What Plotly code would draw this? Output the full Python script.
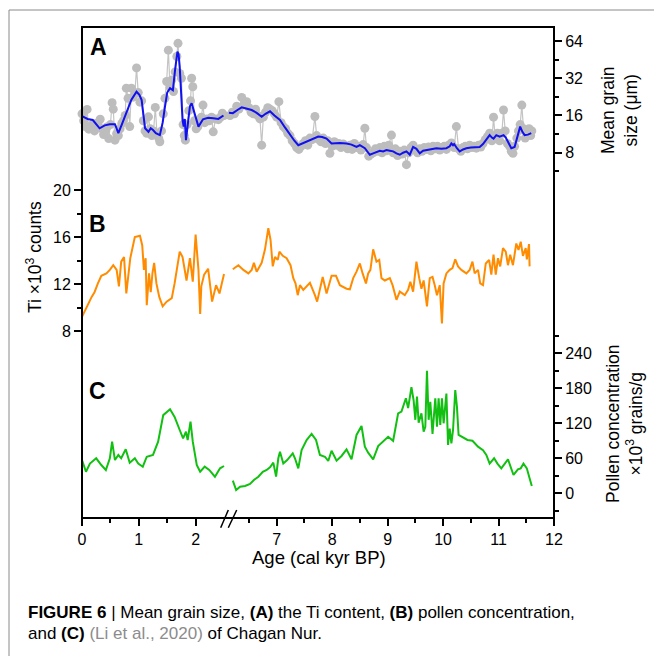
import plotly.graph_objects as go
import math

# ---------------- data ----------------
# Panel A: mean grain size (um), raw samples
grain_age = [0.00,0.03,0.06,0.09,0.12,0.15,0.18,0.22,0.25,0.28,0.32,0.35,0.38,0.41,0.44,0.47,0.50,0.53,0.55,0.58,
             0.61,0.64,0.67,0.70,0.73,0.76,0.78,0.81,0.84,0.87,0.90,0.93,0.96,0.99,1.02,1.05,1.08,1.11,1.14,1.17,
             1.20,1.23,1.26,1.29,1.32,1.35,1.37,1.40,1.43,1.46,1.49,1.52,1.55,1.58,1.61,1.64,1.67,1.69,1.72,1.75,
             1.78,1.80,1.82,1.85,1.88,1.91,1.93,1.95,1.98,2.01,2.04,2.07,2.10,2.13,2.16,2.20,2.24,2.28,2.31,2.35,
             2.40,2.44,2.47,2.50,
             6.12,6.16,6.20,6.24,6.28,6.32,6.37,6.41,6.46,6.50,6.54,6.58,6.62,6.66,6.70,6.73,6.76,6.80,6.84,6.88,
             6.92,6.96,7.00,7.04,7.08,7.12,7.16,7.20,7.24,7.28,7.32,7.36,7.40,7.44,7.48,7.52,7.56,7.60,7.64,7.69,
             7.72,7.76,7.80,7.84,7.88,7.92,7.96,8.00,8.04,8.08,8.12,8.16,8.20,8.24,8.28,8.32,8.36,8.40,8.44,8.48,
             8.52,8.56,8.59,8.62,8.66,8.70,8.74,8.78,8.82,8.86,8.90,8.94,8.98,9.02,9.07,9.10,9.14,9.18,9.22,9.26,
             9.30,9.34,9.38,9.42,9.46,9.50,9.54,9.58,9.62,9.66,9.70,9.74,9.78,9.82,9.86,9.90,9.94,9.98,10.02,10.06,
             10.10,10.15,10.20,10.24,10.28,10.32,10.36,10.40,10.44,10.48,10.52,10.56,10.60,10.64,10.68,10.72,10.76,
             10.80,10.84,10.88,10.91,10.94,10.98,11.02,11.06,11.09,11.12,11.16,11.20,11.23,11.26,11.29,11.33,11.36,
             11.39,11.42,11.45,11.48,11.51,11.55,11.58,11.60]
grain_raw = [16.5,14.5,13.0,17.9,12.4,12.6,13.5,12.0,13.8,14.0,14.9,12.5,11.2,11.8,12.9,10.4,13.5,20.3,18.0,10.1,
             11.4,11.0,12.5,13.8,14.5,16.0,26.6,22.0,13.0,26.6,22.5,24.0,38.8,24.5,20.5,21.0,14.5,12.0,11.5,15.6,
             12.5,11.0,12.0,18.6,11.5,10.5,9.8,12.0,16.5,22.0,30.1,54.0,27.0,31.0,25.0,36.0,48.0,61.3,35.0,32.0,
             13.5,11.0,10.1,13.5,17.5,21.0,32.0,27.3,14.5,12.5,13.0,14.0,15.5,19.4,14.0,15.0,14.5,15.5,11.8,15.0,
             14.8,15.5,16.7,16.0,
             17.5,16.0,17.0,16.5,19.0,18.0,22.4,19.5,20.7,18.5,17.0,16.5,18.0,16.0,15.0,9.2,15.5,17.0,18.5,18.0,
             17.5,16.5,15.5,20.7,14.0,13.0,12.5,11.5,11.0,10.0,9.5,8.8,8.5,9.0,9.5,10.0,9.2,10.5,10.2,15.7,
             11.0,10.2,9.8,10.5,9.5,10.0,7.9,9.0,9.8,9.2,9.5,8.8,9.4,9.0,8.6,9.2,8.5,9.5,8.8,9.0,
             8.4,9.3,12.6,8.8,7.5,7.8,8.0,8.6,8.2,8.8,8.0,9.0,8.3,9.2,11.1,8.0,8.6,7.6,8.2,7.8,
             8.4,6.4,8.0,8.8,9.2,8.4,8.0,8.6,8.2,8.8,8.5,8.9,8.3,9.0,8.6,9.0,8.4,8.8,9.0,8.5,
             9.2,9.6,8.8,13.0,8.6,8.2,8.8,9.0,8.6,9.2,8.8,9.0,8.7,9.2,8.9,9.5,10.2,
             10.8,11.5,10.0,15.5,10.5,11.5,10.0,11.5,17.7,12.0,9.5,9.0,8.2,7.9,9.0,10.5,12.0,
             13.5,19.4,12.5,10.5,11.5,12.5,11.0,12.0]

# Panel A: smoothed mean grain size
smooth_age = [0.00,0.10,0.19,0.25,0.31,0.40,0.49,0.58,0.64,0.70,0.78,0.87,0.96,1.01,1.05,1.11,1.17,1.21,1.25,1.30,
              1.37,1.42,1.46,1.50,1.55,1.60,1.64,1.68,1.70,1.72,1.75,1.77,1.79,1.81,1.83,1.85,1.87,1.90,1.93,1.96,
              1.99,2.05,2.13,2.22,2.31,2.40,2.49,
              6.14,6.21,6.30,6.37,6.45,6.55,6.64,6.73,6.80,6.88,6.96,7.06,7.15,7.24,7.32,7.39,7.46,7.54,7.65,7.75,
              7.82,7.90,7.99,8.14,8.26,8.35,8.44,8.50,8.59,8.64,8.68,8.74,8.80,8.86,8.92,8.98,9.04,9.10,9.16,9.22,
              9.28,9.34,9.40,9.43,9.46,9.52,9.58,9.64,9.70,9.79,9.88,9.97,10.06,10.12,10.15,10.18,10.20,10.25,10.30,
              10.36,10.42,10.50,10.58,10.66,10.72,10.78,10.84,10.88,10.91,10.96,11.02,11.09,11.13,11.17,11.23,11.29,
              11.33,11.37,11.39,11.43,11.47,11.53,11.59]
grain_smooth = [15.8,15.0,14.7,13.6,12.6,13.3,13.6,13.6,11.5,13.5,16.7,21.5,24.9,23.5,21.3,12.6,11.8,12.6,12.2,11.5,
                11.1,14.0,18.8,24.5,26.6,25.6,38.0,52.5,50.0,39.7,22.0,14.7,13.0,15.0,10.1,12.5,15.6,19.0,20.1,18.0,
                15.6,13.0,14.9,15.3,15.2,15.0,16.0,
                16.8,16.7,17.8,18.6,18.2,17.7,16.8,15.6,16.5,17.3,16.0,14.7,12.8,11.1,10.0,9.2,9.5,9.8,10.3,10.8,
                10.7,10.4,9.5,9.6,9.5,9.3,8.9,9.2,8.7,8.2,7.7,7.9,8.1,8.3,8.2,8.4,8.3,8.2,7.9,7.7,
                8.0,8.2,7.7,8.3,8.9,8.6,7.9,8.3,8.4,8.6,8.7,8.6,8.7,9.0,9.5,9.2,9.4,8.7,8.2,
                8.5,8.7,8.8,8.8,8.9,9.4,10.2,11.1,10.6,10.4,11.1,10.8,11.1,10.6,9.8,8.7,8.9,
                10.2,12.2,13.0,11.8,11.1,11.2,11.5]

# Panel B: Ti (x10^3 counts)
ti_age = [0.00,0.08,0.10,0.17,0.22,0.28,0.34,0.43,0.49,0.55,0.61,0.65,0.69,0.74,0.78,0.85,0.93,1.02,1.06,1.09,
          1.12,1.14,1.18,1.21,1.24,1.27,1.31,1.36,1.42,1.49,1.58,1.63,1.72,1.77,1.84,1.90,1.95,2.00,2.05,2.08,
          2.10,2.15,2.22,2.29,2.36,2.42,2.50,
          6.21,6.31,6.40,6.49,6.55,6.59,6.64,6.73,6.79,6.85,6.89,6.93,6.97,7.02,7.05,7.11,7.18,7.25,7.30,7.34,
          7.38,7.42,7.48,7.60,7.69,7.73,7.83,7.90,7.99,8.07,8.14,8.26,8.32,8.38,8.44,8.50,8.55,8.61,8.65,8.69,
          8.74,8.80,8.85,8.89,8.95,9.04,9.09,9.16,9.22,9.31,9.37,9.41,9.46,9.52,9.57,9.61,9.65,9.71,9.76,9.81,
          9.85,9.89,9.94,9.98,10.01,10.06,10.12,10.17,10.22,10.27,10.33,10.42,10.48,10.53,10.57,10.63,10.67,10.72,
          10.77,10.83,10.87,10.91,10.95,10.99,11.03,11.08,11.13,11.17,11.21,11.26,11.32,11.36,11.40,11.44,11.49,
          11.51,11.55,11.56]
ti_val = [9.2,9.9,10.2,10.9,11.3,12.05,12.7,12.9,13.2,13.6,13.2,11.8,13.9,14.3,11.2,14.2,16.0,16.1,15.3,13.2,
          14.2,10.2,12.9,11.3,12.9,13.8,12.05,10.9,10.1,10.5,10.8,12.05,14.75,14.3,12.3,14.2,12.2,16.2,13.2,9.45,
          11.8,12.8,13.3,10.5,11.9,11.2,12.85,
          13.25,13.6,13.2,12.9,13.2,13.8,13.05,13.8,14.95,16.75,15.75,13.5,14.3,14.05,14.75,14.4,14.2,13.6,12.5,12.05,
          11.05,11.9,11.5,12.1,11.05,10.5,12.6,11.2,12.7,12.7,11.9,11.6,11.55,12.5,13.05,13.75,12.9,12.05,12.9,13.2,
          14.95,13.9,14.05,12.5,12.3,12.5,11.9,10.65,11.35,11.05,11.5,12.2,11.35,13.9,12.5,11.6,12.3,10.1,12.5,12.6,
          11.9,11.05,11.9,8.65,12.05,12.9,13.2,13.35,14.1,13.5,13.2,12.9,13.2,13.9,12.9,13.2,12.05,11.9,
          13.75,14.05,12.8,14.5,12.8,14.2,13.5,15.05,14.75,13.6,14.5,13.6,15.45,14.9,15.6,14.4,15.05,
          14.1,15.4,13.5]

# Panel C: pollen concentration (x10^3 grains/g)
pollen_age = [0.00,0.07,0.14,0.25,0.34,0.42,0.49,0.53,0.58,0.64,0.69,0.77,0.84,0.93,0.99,1.07,1.14,1.25,1.34,1.43,
              1.55,1.63,1.72,1.78,1.83,1.86,1.91,1.95,2.02,2.08,2.16,2.24,2.34,2.43,2.50,
              6.21,6.27,6.34,6.43,6.52,6.59,6.67,6.75,6.82,6.88,6.94,6.99,7.03,7.06,7.12,7.19,7.29,7.33,7.39,7.45,
              7.54,7.63,7.71,7.78,7.87,7.93,7.99,8.08,8.17,8.26,8.35,8.44,8.53,8.59,8.65,8.74,8.83,8.92,9.01,9.10,
              9.19,9.25,9.33,9.37,9.43,9.47,9.50,9.53,9.56,9.61,9.65,9.68,9.71,9.74,9.77,9.81,9.86,9.89,9.92,9.95,
              9.98,10.01,10.06,10.09,10.12,10.15,10.18,10.22,10.25,10.28,10.35,10.44,10.53,10.63,10.72,10.78,10.84,
              10.92,10.98,11.05,11.17,11.27,11.35,11.40,11.45,11.51,11.56,11.60]
pollen_val = [57,37,51,60,48.5,40,60,88.5,57,65.7,60,75.4,52.5,60,51,45.6,62.7,65.7,88.5,134,
              144,131,108.5,94.3,105.6,91.4,122.8,88.5,48.5,37,45.6,40,28.5,42.8,46.8,
              21.6,5.7,11.4,12.5,16,22.8,28.5,37,40,44.6,52.5,28.5,60,71.3,51,57,68.6,60,42.8,74,
              91.4,101.7,91.4,65.7,62.7,55.4,73,55.9,64,75.4,58.3,100,115.4,80,69.6,58.3,81,88.5,97,90,
              137,140,163,146,182,159,126,166,121,137,105.6,114,210,126,157,101.7,163,114,163,117,
              163,120,171,82.8,111,85.7,108.5,177,148.5,100,96,91.4,90,80,74,65.7,51,
              60,51,42.8,58.3,31.4,41,42.8,51,42.8,25.7,12.5]

x_ticks_left = [0, 1, 2]
x_ticks_right = [7, 8, 9, 10, 11, 12]
grain_ticks = [8, 16, 32, 64]
ti_ticks = [8, 12, 16, 20]
pollen_ticks = [0, 60, 120, 180, 240]

# ---------------- layout helpers ----------------
W, H = 654, 656
L, T, PW, PH = 82, 27, 472, 491
def px(x):
    return (x - L) / PW
def py(y):
    return 1 - (y - T) / PH

BREAK_LO, BREAK_HI = 2.57, 6.123
split = px(228)
FONT = "Liberation Sans, Arial, sans-serif"

fig = go.Figure()

def add_split(ages, vals, yaxis, **kw):
    la = [a for a in ages if a < 4]
    lv = [v for a, v in zip(ages, vals) if a < 4]
    ra = [a for a in ages if a >= 4]
    rv = [v for a, v in zip(ages, vals) if a >= 4]
    fig.add_trace(go.Scatter(x=la, y=lv, xaxis="x", yaxis=yaxis, cliponaxis=False, **kw))
    fig.add_trace(go.Scatter(x=ra, y=rv, xaxis="x2", yaxis=yaxis, cliponaxis=False, **kw))

add_split(grain_age, grain_raw, "y", mode="lines+markers",
          line=dict(color="#c4c4c4", width=1.2),
          marker=dict(color="#bdbdbd", size=9))
add_split(smooth_age, grain_smooth, "y", mode="lines",
          line=dict(color="#1010f0", width=2))
add_split(ti_age, ti_val, "y2", mode="lines",
          line=dict(color="#ff8c00", width=2))
add_split(pollen_age, pollen_val, "y3", mode="lines",
          line=dict(color="#12c012", width=2))

yA_top = 6 + (41 - 27) / 37.23
yA_bot = 3 - (178 - 152.7) / 37.23

tick_common = dict(ticks="outside", ticklen=7, tickwidth=1.5, tickcolor="black",
                   showgrid=False, zeroline=False, showline=False,
                   tickfont=dict(family=FONT, size=16, color="black"))
minor_common = dict(ticks="outside", ticklen=4, tickwidth=1.5, tickcolor="black", showgrid=False)

fig.update_layout(
    width=W, height=H,
    margin=dict(l=L, r=W - L - PW, t=T, b=H - T - PH),
    plot_bgcolor="white", paper_bgcolor="white",
    showlegend=False,
    font=dict(family=FONT, color="black"),
    xaxis=dict(domain=[0, split], range=[0, BREAK_LO], anchor="y3",
               tickvals=x_ticks_left, ticktext=[str(v) for v in x_ticks_left],
               minor=dict(tickvals=[0.5, 1.5], **minor_common), **tick_common),
    xaxis2=dict(domain=[split, 1], range=[BREAK_HI, 12], anchor="y3",
                tickvals=x_ticks_right, ticktext=[str(v) for v in x_ticks_right],
                minor=dict(tickvals=[6.5, 7.5, 8.5, 9.5, 10.5, 11.5], **minor_common), **tick_common),
    yaxis=dict(domain=[py(178), 1], type="log",
               range=[yA_bot * math.log10(2), yA_top * math.log10(2)],
               side="right", anchor="x2",
               tickvals=grain_ticks, ticktext=[str(v) for v in grain_ticks],
               minor=dict(tickvals=[5.657, 11.31, 22.63, 45.25], **minor_common), **tick_common),
    yaxis2=dict(domain=[py(334), py(178)],
                range=[8 - 3 / 11.75, 20 + 12 / 11.75],
                side="left", anchor="x",
                tickvals=ti_ticks, ticktext=[str(v) for v in ti_ticks],
                minor=dict(tickvals=[10, 14, 18], **minor_common), **tick_common),
    yaxis3=dict(domain=[0, py(334)],
                range=[(493.3 - 518) / 0.5833, (493.3 - 334) / 0.5833],
                side="right", anchor="x2",
                tickvals=pollen_ticks, ticktext=[str(v) for v in pollen_ticks],
                minor=dict(tickvals=[-30, 30, 90, 150, 210, 270], **minor_common), **tick_common),
)

shapes = [
    dict(type="rect", xref="paper", yref="paper", x0=0, y0=0, x1=1, y1=1,
         line=dict(color="black", width=2), layer="above"),
    dict(type="line", xref="paper", yref="paper", x0=px(220.7), y0=py(527.7), x1=px(228.3), y1=py(510),
         line=dict(color="black", width=1.5)),
    dict(type="line", xref="paper", yref="paper", x0=px(228.3), y0=py(527.7), x1=px(236.7), y1=py(510),
         line=dict(color="black", width=1.5)),
    dict(type="line", xref="paper", yref="paper", x0=px(9), y0=py(10), x1=px(9), y1=py(700),
         line=dict(color="#8a8a8a", width=1)),
    dict(type="line", xref="paper", yref="paper", x0=px(9), y0=py(10), x1=px(700), y1=py(10),
         line=dict(color="#8a8a8a", width=1)),
]
fig.update_layout(shapes=shapes)

def ann(text, x, y, size, angle=0, xanchor="center", yanchor="middle", align="center", color="black"):
    fig.add_annotation(text=text, x=px(x), y=py(y), xref="paper", yref="paper",
                       showarrow=False, textangle=angle, xanchor=xanchor, yanchor=yanchor,
                       align=align, font=dict(family=FONT, size=size, color=color))

ann("<b>A</b>", 98.5, 46.5, 23)
ann("<b>B</b>", 97, 223.5, 23)
ann("<b>C</b>", 97.5, 391, 23)
ann("Age (cal kyr BP)", 319, 557, 18.5)
ann("Mean grain<br>size (μm)", 619, 110, 17.5, angle=-90)
ann("Ti ×10<sup>3</sup> counts", 34, 257, 17.5, angle=-90)
ann("Pollen concentration<br>×10<sup>3</sup> grains/g", 624, 424, 17.5, angle=-90)

ann("<b>FIGURE 6</b> | Mean grain size, <b>(A)</b> the Ti content, <b>(B)</b> pollen concentration,",
    26, 612, 17, xanchor="left", align="left")
ann("and <b>(C)</b> <span style='color:#8c8c8c'>(Li et al., 2020)</span> of Chagan Nur.",
    26, 633, 17, xanchor="left", align="left")

fig.write_html("out.html")
